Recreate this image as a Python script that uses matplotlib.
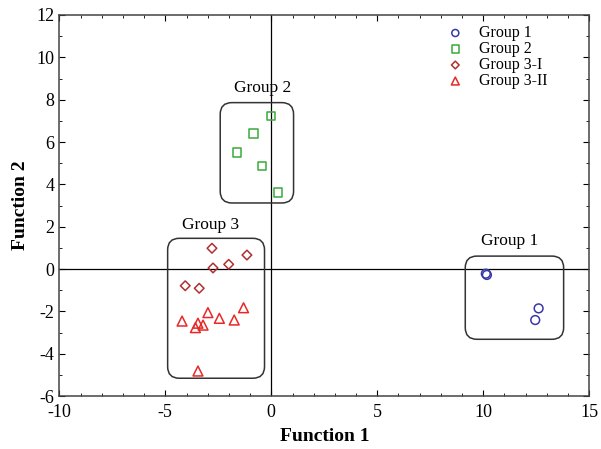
import matplotlib
matplotlib.use('Agg')
import matplotlib.pyplot as plt
from matplotlib.patches import FancyBboxPatch
from matplotlib.ticker import MultipleLocator

plt.rcParams['font.family'] = ['Liberation Serif', 'DejaVu Serif']
plt.rcParams['axes.unicode_minus'] = False

# discriminant scores
g1_x = [10.17, 10.12, 12.61, 12.45]
g1_y = [-0.28, -0.22, -1.86, -2.41]
g2_x = [-0.01, -0.83, -1.62, -0.44, 0.32]
g2_y = [7.23, 6.41, 5.51, 4.87, 3.60]
g3a_x = [-2.80, -1.15, -2.01, -2.75, -4.06, -3.40]
g3a_y = [0.98, 0.66, 0.22, 0.05, -0.79, -0.91]
g3b_x = [-1.31, -2.99, -2.45, -1.75, -4.21, -3.46, -3.22, -3.58, -3.46]
g3b_y = [-1.83, -2.06, -2.33, -2.41, -2.46, -2.56, -2.65, -2.77, -4.82]

# group boxes (x0, y0, x1, y1) and their labels
boxes = {
    'Group 1': (9.15, -3.32, 13.79, 0.61),
    'Group 2': (-2.41, 3.12, 1.05, 7.86),
    'Group 3': (-4.89, -5.16, -0.32, 1.45),
}
box_labels = {
    'Group 1': (11.25, 1.3),
    'Group 2': (-0.42, 8.55),
    'Group 3': (-2.88, 2.1),
}

fig = plt.figure(figsize=(6.01, 4.49), dpi=100)
ax = fig.add_axes([0.0987, 0.118, 0.8818, 0.8486])

ax.axhline(0, color='black', lw=0.9, zorder=1)
ax.axvline(0, color='black', lw=0.9, zorder=1)

for name, (x0, y0, x1, y1) in boxes.items():
    p = FancyBboxPatch((x0, y0), x1 - x0, y1 - y0,
                       boxstyle='round,pad=0,rounding_size=0.55',
                       fc='none', ec='#333333', lw=1.1, zorder=2)
    ax.add_patch(p)
    lx, ly = box_labels[name]
    ax.text(lx, ly, name, ha='center', va='center', fontsize=12.5)

ax.scatter(g1_x, g1_y, marker='o', s=40, facecolors='none',
           edgecolors='#3838a8', linewidths=1.1, label='Group 1', zorder=3)
ax.scatter(g2_x, g2_y, marker='s', s=40, facecolors='none',
           edgecolors='#3aaa3a', linewidths=1.1, label='Group 2', zorder=3)
ax.scatter(g3a_x, g3a_y, marker='D', s=24, facecolors='none',
           edgecolors='#b03030', linewidths=1.1, label='Group 3-I', zorder=3)
ax.scatter(g3b_x, g3b_y, marker='^', s=50, facecolors='none',
           edgecolors='#e82828', linewidths=1.1, label='Group 3-II', zorder=3)

ax.set_xlim(-10, 15)
ax.set_ylim(-6, 12)
ax.xaxis.set_major_locator(MultipleLocator(5))
ax.xaxis.set_minor_locator(MultipleLocator(1))
ax.yaxis.set_major_locator(MultipleLocator(2))
ax.yaxis.set_minor_locator(MultipleLocator(1))
ax.tick_params(which='both', direction='in', top=True, right=True, labelsize=13)
ax.tick_params(which='major', length=4)
ax.tick_params(which='minor', length=2)
ax.tick_params(axis='x', pad=6)
for s in ax.spines.values():
    s.set_color('#444444')
    s.set_linewidth(1.1)

ax.set_xlabel('Function 1', fontsize=14, fontweight='bold', labelpad=5)
ax.set_ylabel('Function 2', fontsize=14, fontweight='bold', labelpad=5)

ax.legend(loc='upper left', bbox_to_anchor=(0.705, 0.99), frameon=False,
          fontsize=11.5, handletextpad=0.5, labelspacing=0.0,
          borderaxespad=0.0, markerscale=0.8)

fig.savefig('out.png', dpi=100)
